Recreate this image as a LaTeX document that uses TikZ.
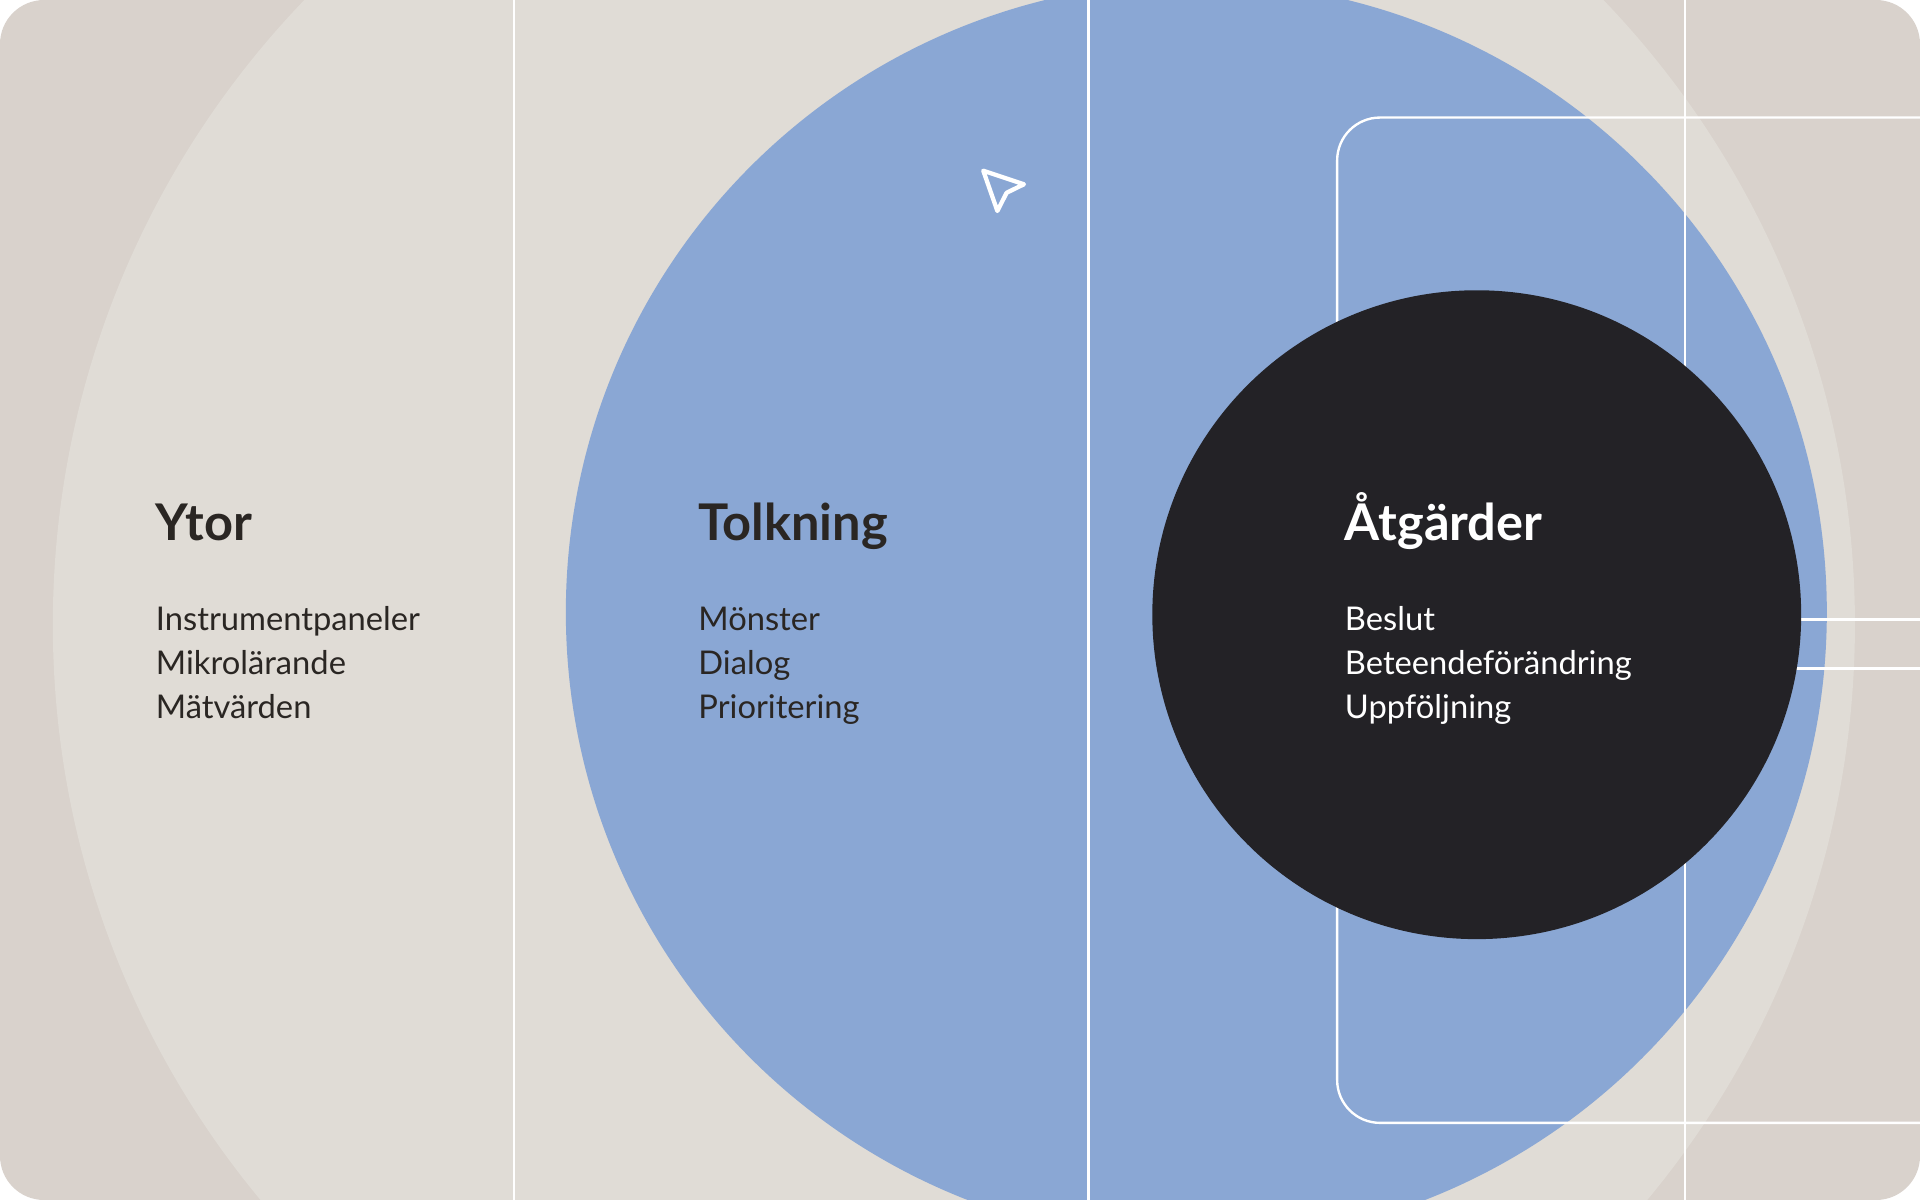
\documentclass[tikz,border=0pt]{standalone}
\usepackage{fontspec}
\setmainfont{Lato}
\usepackage{xcolor}
\usepackage{tikz}

\definecolor{paper}{HTML}{D9D2CC}
\definecolor{sand}{HTML}{E0DCD6}
\definecolor{sky}{HTML}{8AA7D4}
\definecolor{ink}{HTML}{232226}
\definecolor{textdark}{HTML}{2A2623}

\begin{document}
\begin{tikzpicture}[
    x=0.02cm, y=-0.02cm,
    disc/.style={circle, inner sep=0pt, outer sep=0pt},
    guide/.style={draw=white, line width=1.1pt},
    head/.style={font=\fontsize{23.5}{28}\selectfont\bfseries, text=textdark, inner sep=0pt, anchor=base west},
    item/.style={font=\fontsize{15.2}{20.5}\selectfont, text=textdark, align=left, inner sep=0pt, anchor=base west}
]

\useasboundingbox (0,0) rectangle (1568,980);

\begin{scope}
\clip[rounded corners=0.72cm] (0,0) rectangle (1568,980);
\fill[paper] (0,0) rectangle (1568,980);

% Circles
\node[disc, fill=sand, minimum size=29.44cm] (outer) at (779,510) {};
\node[disc, fill=sky, minimum size=20.6cm] (middle) at (977,500) {};

% Guide lines
\foreach \gx in {420,889,1376}
  \draw[guide] (\gx,0) -- (\gx,980);
\draw[guide, rounded corners=0.7cm] (1600,96) -- (1092,96) -- (1092,917) -- (1600,917);
\draw[guide] (1206,506) -- (1600,506);
\draw[guide] (1206,546) -- (1600,546);

\node[disc, fill=ink, minimum size=10.6cm] (inner) at (1206,502) {};
\end{scope}

% Cursor
\draw[white, line width=2pt, line join=round] (803,139.4) -- (836.2,150.5) -- (822.1,157.4) -- (814.5,172.3) -- cycle;

% Labels (lists sit on the baseline of their last line)
\node[head] (ytor) at (127,441) {Ytor};
\node[item] (ytorlist) at (127,587) {Instrumentpaneler\\Mikrolärande\\Mätvärden};

\node[head] (tolkning) at (570,441) {Tolkning};
\node[item] (tolkninglist) at (570,587) {Mönster\\Dialog\\Prioritering};

\node[head, text=white] (atgarder) at (1098,441) {Åtgärder};
\node[item, text=white] (atgarderlist) at (1098,587) {Beslut\\Beteendeförändring\\Uppföljning};

\end{tikzpicture}
\end{document}
